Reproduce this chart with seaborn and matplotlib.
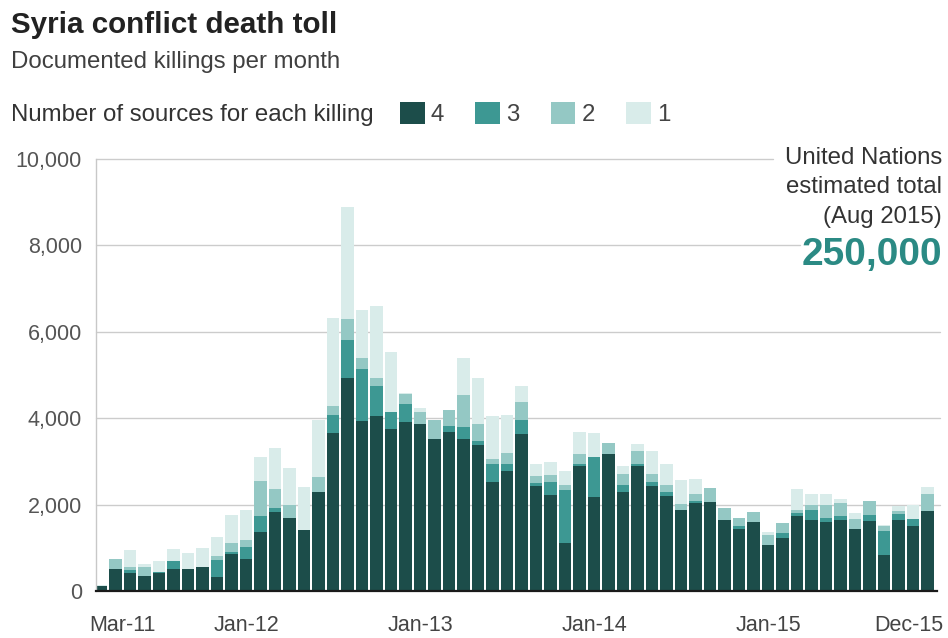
import numpy as np
import pandas as pd
import matplotlib
matplotlib.use("Agg")
import matplotlib.pyplot as plt
import matplotlib.transforms as mtransforms
import seaborn as sns
from matplotlib.patches import Patch

# ---- data ----
months = list(pd.date_range("2011-03-01", periods=58, freq="MS").strftime("%b-%y"))

src4 = [120, 500, 420, 340, 420, 520, 520, 560, 325, 860,
        730, 1365, 1840, 1700, 1410, 2285, 3655, 4925, 3925, 4040,
        3755, 3910, 3870, 3515, 3690, 3520, 3380, 2525, 2780, 3630,
        2430, 2215, 1110, 2900, 2175, 3170, 2290, 2885, 2435, 2210,
        1875, 2035, 2070, 1645, 1435, 1590, 1065, 1220, 1730, 1650,
        1590, 1635, 1430, 1625, 835, 1650, 1510, 1845]

src3 = [0, 20, 60, 0, 25, 170, 0, 0, 400, 45,
        295, 370, 80, 0, 0, 0, 425, 885, 1205, 710,
        400, 415, 0, 0, 130, 270, 100, 425, 170, 320,
        70, 310, 1235, 40, 930, 0, 170, 55, 80, 80,
        0, 50, 0, 0, 70, 0, 0, 130, 80, 220,
        100, 95, 0, 125, 545, 140, 165, 0]

src2 = [0, 210, 80, 215, 0, 0, 0, 0, 80, 210,
        155, 800, 440, 295, 0, 345, 210, 485, 275, 175,
        0, 230, 285, 445, 370, 755, 390, 100, 235, 420,
        165, 170, 100, 225, 0, 250, 255, 295, 200, 170,
        140, 155, 325, 270, 180, 250, 230, 235, 75, 110,
        290, 310, 235, 340, 130, 55, 0, 405]

src1 = [10, 0, 390, 80, 245, 290, 350, 430, 450, 640,
        700, 565, 950, 850, 990, 1330, 2035, 2590, 1095, 1675,
        1385, 30, 90, 0, 0, 855, 1060, 990, 890, 385,
        285, 280, 330, 525, 545, 0, 170, 170, 520, 480,
        560, 350, 0, 0, 0, 0, 60, 0, 480, 255,
        255, 95, 140, 0, 20, 130, 325, 165]

source_levels = ["4", "3", "2", "1"]
tick_labels = ["Mar-11", "Jan-12", "Jan-13", "Jan-14", "Jan-15", "Dec-15"]
y_ticks = [0, 2000, 4000, 6000, 8000, 10000]

colors = {"4": "#1c4d4a", "3": "#3d9893", "2": "#94c8c4", "1": "#d9ecea"}

# ---- style ----
sns.set_theme(style="white")
plt.rcParams["font.family"] = ["Liberation Sans", "DejaVu Sans"]

W, H = 948, 638
fig = plt.figure(figsize=(W / 100, H / 100), dpi=100)
ax = fig.add_axes([96 / W, 1 - 591 / H, (937 - 96) / W, (591 - 159) / H])

df = pd.DataFrame({"month": months, "4": src4, "3": src3, "2": src2, "1": src1})
layers = [
    ("1", df["4"] + df["3"] + df["2"] + df["1"]),
    ("2", df["4"] + df["3"] + df["2"]),
    ("3", df["4"] + df["3"]),
    ("4", df["4"]),
]
for lvl, vals in layers:
    sns.barplot(x=df["month"], y=vals, order=months, color=colors[lvl],
                saturation=1, width=0.84, linewidth=0, errorbar=None,
                ax=ax, zorder=2)

ax.set_xlim(-0.35, 57.65)
ax.set_ylim(0, 10000)
ax.set_xlabel("")
ax.set_ylabel("")
ax.set_xticks([months.index(t) for t in tick_labels])
ax.set_xticklabels(tick_labels)
ax.set_yticks(y_ticks)
ax.set_yticklabels([f"{v:,}" for v in y_ticks])

for s in ["top", "right"]:
    ax.spines[s].set_visible(False)
ax.spines["left"].set_color("#c8c8c8")
ax.spines["left"].set_linewidth(1)
ax.spines["bottom"].set_color("#1a1a1a")
ax.spines["bottom"].set_linewidth(1.6)
ax.spines["bottom"].set_zorder(5)

ax.tick_params(axis="y", length=8, width=1, color="#cccccc", pad=2,
               labelsize=15.5, labelcolor="#555555")
ax.tick_params(axis="x", length=11, width=1, color="#bbbbbb", pad=6,
               labelsize=15.5, labelcolor="#444444")

# shift first and last x labels inward as in the reference
xlabels = ax.get_xticklabels()
for lab, dx in [(xlabels[0], 21), (xlabels[-1], -19)]:
    lab.set_transform(lab.get_transform() +
                      mtransforms.ScaledTranslation(dx / 100, 0, fig.dpi_scale_trans))

grid_xmax = {2000: 1.004, 4000: 1.004, 6000: 1.004, 8000: 0.837, 10000: 0.805}
for v in y_ticks[1:]:
    ax.axhline(v, xmin=0, xmax=grid_xmax[v], color="#cccccc", lw=1,
               zorder=1, clip_on=False)

# ---- titles ----
fig.text(11 / W, 1 - 33 / H, "Syria conflict death toll", fontsize=21.3,
         fontweight="bold", color="#222222", va="baseline")
fig.text(11 / W, 1 - 68 / H, "Documented killings per month", fontsize=17.3,
         color="#404040", va="baseline")
fig.text(11 / W, 1 - 121 / H, "Number of sources for each killing",
         fontsize=17.3, color="#333333", va="baseline")

handles = [Patch(facecolor=colors[l], edgecolor="none", label=l) for l in source_levels]
fig.legend(handles=handles, loc="center left",
           bbox_to_anchor=(400 / W, 1 - 114 / H), ncol=4, frameon=False,
           fontsize=17.3, handlelength=1.03, handleheight=1.0,
           handletextpad=0.25, columnspacing=1.3, borderpad=0,
           borderaxespad=0, labelcolor="#444444")

# ---- annotation ----
for txt, yb in [("United Nations", 164), ("estimated total", 193.5), ("(Aug 2015)", 223)]:
    fig.text(942 / W, 1 - yb / H, txt, fontsize=17.3, color="#333333",
             ha="right", va="baseline")
fig.text(942 / W, 1 - 265 / H, "250,000", fontsize=28, fontweight="bold",
         color="#2b8a84", ha="right", va="baseline")

fig.savefig("out.png", dpi=100)
